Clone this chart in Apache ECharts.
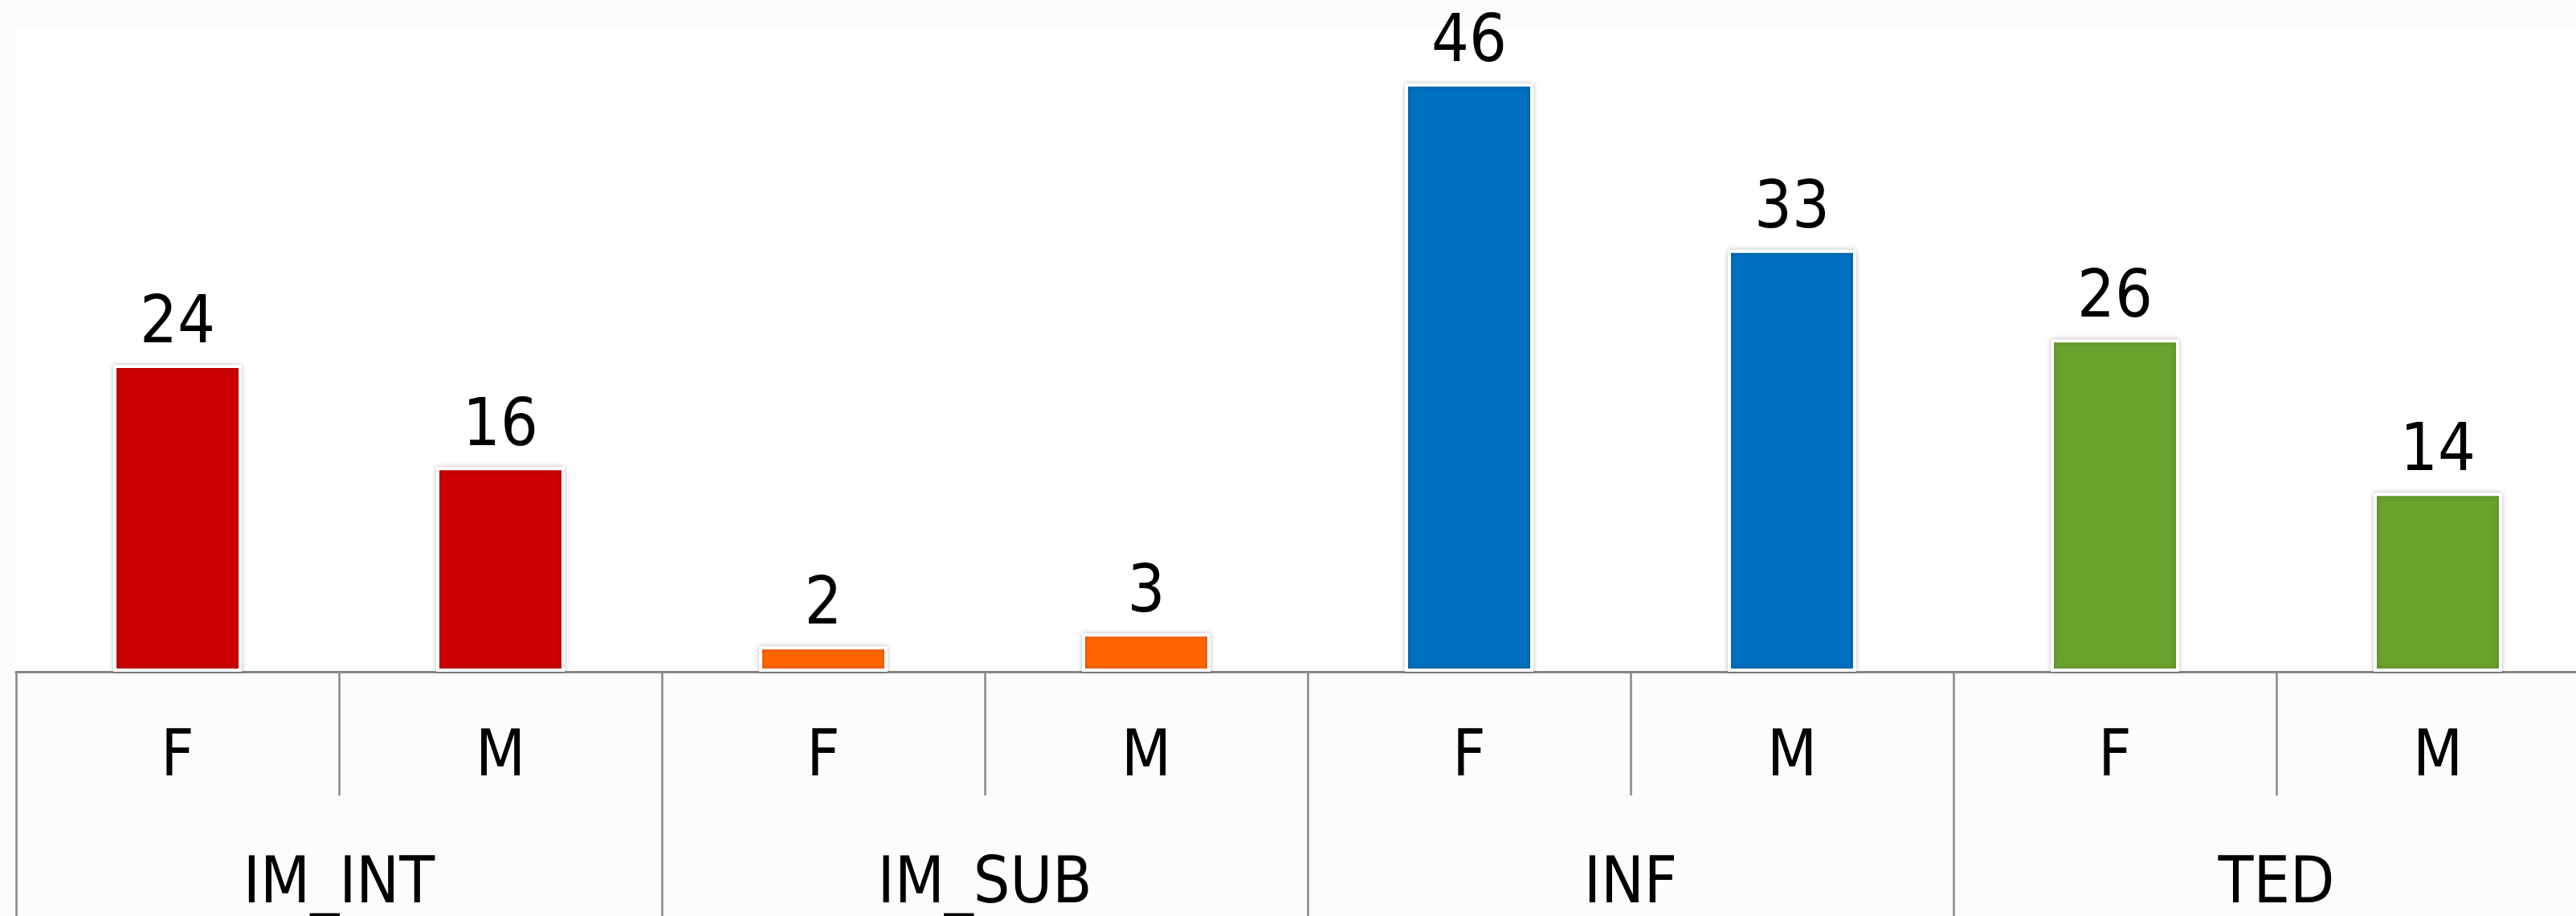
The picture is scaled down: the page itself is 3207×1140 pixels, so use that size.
<!DOCTYPE html>
<html>
<head>
<meta charset="utf-8">
<script src="https://cdn.jsdelivr.net/npm/echarts@6/dist/echarts.min.js"></script>
<style>
  html, body { margin: 0; padding: 0; background: #fcfcfa; }
  #main { width: 3207px; height: 1140px; }
</style>
</head>
<body>
<div id="main"></div>
<script>
// data
var groups = ["IM_INT", "IM_SUB", "INF", "TED"];
var sexes = ["F", "M"];
var counts = [24, 16, 2, 3, 46, 33, 26, 14];

// one colour per group
var groupColors = ["#cc0000", "#ff6600", "#0070c0", "#6aa22e"];

var FONT = "'DejaVu Sans Condensed', 'DejaVu Sans', sans-serif";

var subCats = [];
groups.forEach(function () {
  sexes.forEach(function (s) { subCats.push(s); });
});

var barData = counts.map(function (v, i) {
  return {
    value: v,
    itemStyle: { color: groupColors[Math.floor(i / sexes.length)] }
  };
});

var myChart = echarts.init(document.getElementById("main"));
myChart.setOption({
  backgroundColor: "#fcfcfa",
  animation: false,
  grid: {
    left: 20,
    top: 37,
    width: 3216,
    bottom: 304,
    outerBoundsMode: "none",
    containLabel: false,
    show: true,
    backgroundColor: "#ffffff",
    borderWidth: 0
  },
  xAxis: [
    {
      type: "category",
      data: subCats,
      position: "bottom",
      axisLine: { show: true, lineStyle: { color: "#888888", width: 3 } },
      axisTick: { show: true, length: 154, lineStyle: { color: "#888888", width: 2.5 } },
      axisLabel: { color: "#000", fontSize: 80, fontFamily: FONT, margin: 68 }
    },
    {
      type: "category",
      data: groups,
      position: "bottom",
      axisLine: { show: false },
      axisTick: { show: true, length: 304, lineStyle: { color: "#888888", width: 2.5 } },
      axisLabel: { color: "#000", fontSize: 80, fontFamily: FONT, margin: 226 }
    }
  ],
  yAxis: {
    type: "value",
    min: 0,
    max: 50.2,
    show: false,
    splitLine: { show: false }
  },
  series: [
    {
      type: "bar",
      xAxisIndex: 0,
      data: barData,
      barWidth: 160,
      itemStyle: {
        borderColor: "#ffffff",
        borderWidth: 4,
        shadowBlur: 6,
        shadowColor: "rgba(0,0,0,0.22)"
      },
      label: {
        show: true,
        position: "top",
        distance: 8,
        color: "#000",
        fontSize: 82,
        fontFamily: FONT
      }
    }
  ]
});
</script>
</body>
</html>
